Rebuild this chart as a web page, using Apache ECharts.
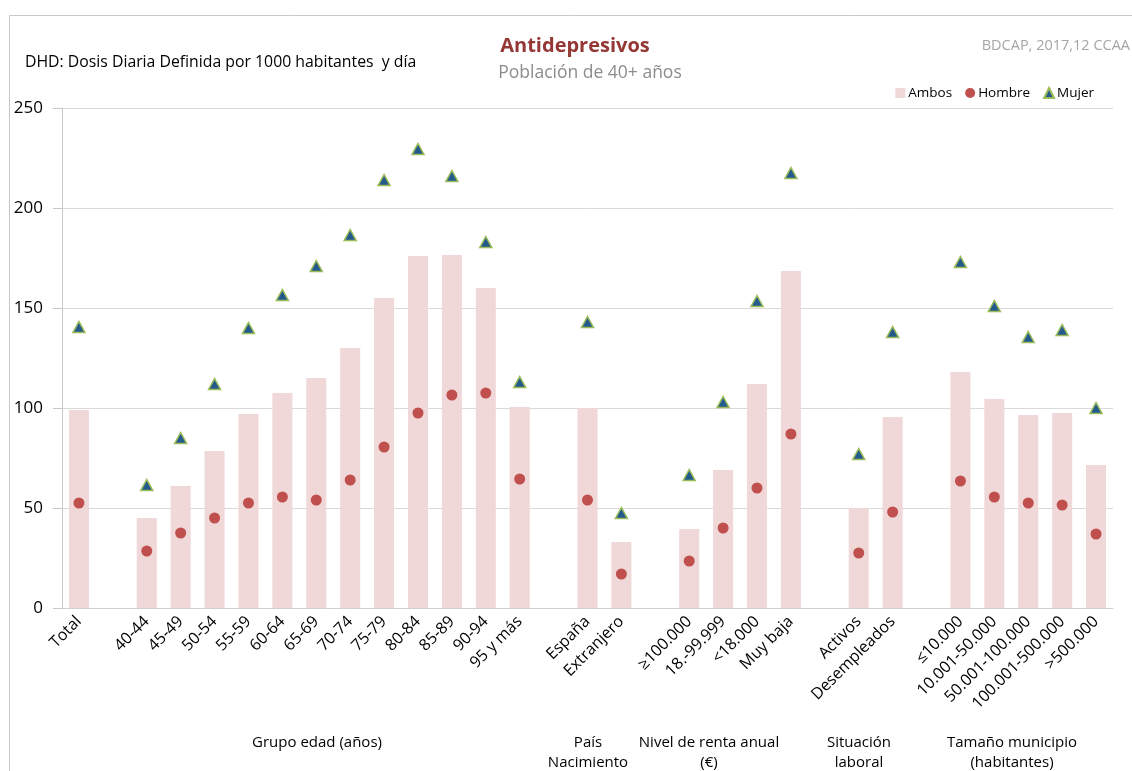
<!DOCTYPE html>
<html>
<head>
<meta charset="utf-8">
<script src="https://cdn.jsdelivr.net/npm/echarts@6/dist/echarts.min.js"></script>
<style>
  html, body { margin: 0; padding: 0; background: #fff; }
  #chart { width: 1132px; height: 771px; }
</style>
</head>
<body>
<div id="chart"></div>
<script>
// categories, '' marks the blank slot between groups
const categories = [
    "Total", "",
    "40-44", "45-49", "50-54", "55-59", "60-64", "65-69", "70-74", "75-79", "80-84", "85-89", "90-94", "95 y más", "",
    "España", "Extranjero", "",
    "≥100.000", "18.-99.999", "<18.000", "Muy baja", "",
    "Activos", "Desempleados", "",
    "≤10.000", "10.001-50.000", "50.001-100.000", "100.001-500.000", ">500.000"
];

const ambos = [
    99, "-",
    45, 61, 78.5, 97, 107.5, 115, 130, 155, 176, 176.5, 160, 100.5, "-",
    100, 33, "-",
    39.5, 69, 112, 168.5, "-",
    50, 95.5, "-",
    118, 104.5, 96.5, 97.5, 71.5
];

const hombre = [
    52.5, "-",
    28.5, 37.5, 45, 52.5, 55.5, 54, 64, 80.5, 97.5, 106.5, 107.5, 64.5, "-",
    54, 17, "-",
    23.5, 40, 60, 87, "-",
    27.5, 48, "-",
    63.5, 55.5, 52.5, 51.5, 37
];

const mujer = [
    140.5, "-",
    61.5, 85, 112, 140, 156.5, 171, 186.5, 214, 229.5, 216, 183, 113, "-",
    143, 47.5, "-",
    66.5, 103, 153.5, 217.5, "-",
    77, 138, "-",
    173, 151, 135.5, 139, 100
];

const groupLabels = [
    { text: "Grupo edad (años)", x: 317 },
    { text: "País\nNacimiento", x: 588 },
    { text: "Nivel de renta anual\n(€)", x: 709 },
    { text: "Situación\nlaboral", x: 859 },
    { text: "Tamaño municipio\n(habitantes)", x: 1012 }
];

const font = "'Open Sans', 'Noto Sans', sans-serif";

const chart = echarts.init(document.getElementById("chart"));

chart.setOption({
    backgroundColor: "#fff",
    animation: false,
    textStyle: { fontFamily: font },
    grid: { left: 62, right: 19, top: 108, bottom: 163 },
    legend: {
        right: 33,
        top: 81,
        itemWidth: 10,
        itemHeight: 10,
        itemGap: 13,
        textStyle: { fontSize: 13.5, color: "#000", fontFamily: font, padding: [0, 0, 0, -2] },
        data: [
            { name: "Ambos", icon: "rect" },
            { name: "Hombre", icon: "circle" },
            { name: "Mujer", icon: "triangle" }
        ]
    },
    xAxis: {
        type: "category",
        data: categories,
        axisLine: { lineStyle: { color: "#d0d0d0" } },
        axisTick: { show: false },
        axisLabel: {
            interval: 0,
            rotate: 45,
            margin: 11,
            fontSize: 16,
            color: "#000",
            fontFamily: font
        }
    },
    yAxis: {
        type: "value",
        min: 0,
        max: 250,
        interval: 50,
        axisLine: { show: true, lineStyle: { color: "#c8c8c8" } },
        axisTick: { show: true, length: 9, lineStyle: { color: "#c8c8c8" } },
        axisLabel: { fontSize: 17, color: "#000", margin: 19, fontFamily: font },
        splitLine: { lineStyle: { color: "#d9d9d9" } }
    },
    series: [
        {
            name: "Ambos",
            type: "bar",
            data: ambos,
            barWidth: "59%",
            itemStyle: { color: "#f0d7d8" }
        },
        {
            name: "Hombre",
            type: "scatter",
            data: hombre,
            symbol: "circle",
            symbolSize: 11,
            itemStyle: { color: "#c0504d", opacity: 1 },
            z: 3
        },
        {
            name: "Mujer",
            type: "scatter",
            data: mujer,
            symbol: "triangle",
            symbolSize: [12, 11],
            itemStyle: { color: "#245a8c", borderColor: "#9bbb59", borderWidth: 1.5, opacity: 1 },
            z: 4
        }
    ],
    graphic: [
        {
            type: "rect",
            shape: { x: 9.5, y: 15.5, width: 1200, height: 800 },
            style: { fill: "none", stroke: "#c8c8c8", lineWidth: 1 },
            silent: true
        },
        {
            type: "text", left: 25, top: 54,
            style: { text: "DHD: Dosis Diaria Definida por 1000 habitantes  y día", fontSize: 15.8, fill: "#000", fontFamily: font }
        },
        {
            type: "text", x: 575, y: 46,
            style: { text: "Antidepresivos", fontSize: 20, fontWeight: "bold", fill: "#953735", align: "center", verticalAlign: "middle", fontFamily: font }
        },
        {
            type: "text", x: 590, y: 73,
            style: { text: "Población de 40+ años", fontSize: 17.5, fill: "#8c8c8c", align: "center", verticalAlign: "middle", fontFamily: font }
        },
        {
            type: "text", x: 1130, y: 46,
            style: { text: "BDCAP, 2017,12 CCAA", fontSize: 14.5, fill: "#a6a6a6", align: "right", verticalAlign: "middle", fontFamily: font }
        }
    ].concat(groupLabels.map(g => ({
        type: "text", x: g.x, y: 733,
        style: { text: g.text, fontSize: 15, lineHeight: 20, fill: "#000", align: "center", verticalAlign: "top", fontFamily: font }
    })))
});
</script>
</body>
</html>
